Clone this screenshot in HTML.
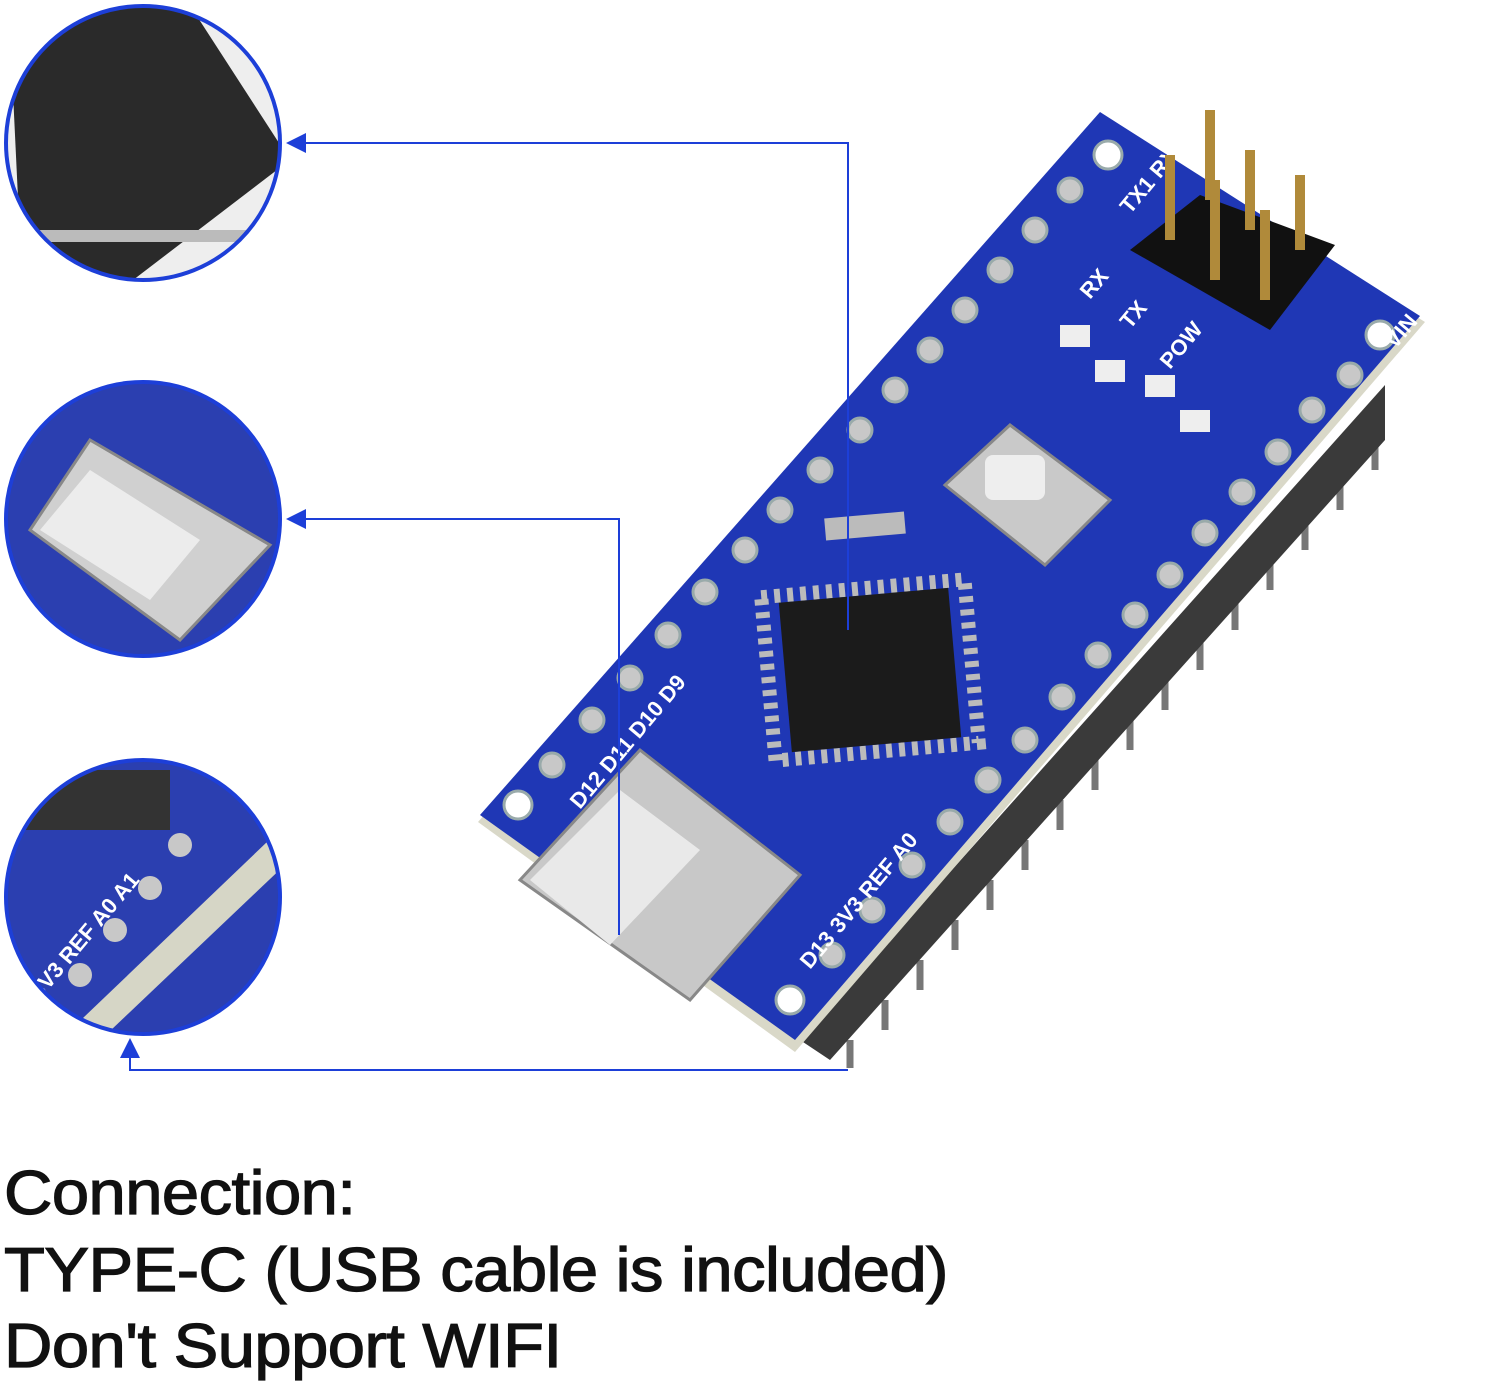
<!DOCTYPE html>
<html><head><meta charset="utf-8"><style>
html,body{margin:0;padding:0;background:#fff;}
body{width:1500px;height:1384px;position:relative;overflow:hidden;font-family:"Liberation Sans",sans-serif;}
.t{position:absolute;left:4px;font-size:62px;color:#111;letter-spacing:-0.5px;line-height:1;transform:scaleX(1.08);transform-origin:0 0;-webkit-text-stroke:1.2px #111;}
</style></head><body>
<svg width="1500" height="1384" style="position:absolute;left:0;top:0">
<defs>
<clipPath id="c1"><circle cx="143" cy="143" r="136"/></clipPath>
<clipPath id="c2"><circle cx="143" cy="519" r="136"/></clipPath>
<clipPath id="c3"><circle cx="143" cy="897" r="136"/></clipPath>
<marker id="ar" markerWidth="10" markerHeight="10" refX="8" refY="5" orient="auto"><path d="M0,0 L10,5 L0,10 z" fill="#1d3fd8"/></marker>
</defs>
<g stroke="#777" stroke-width="7">
<line x1="850" y1="1040" x2="850" y2="1068"/><line x1="885" y1="1000" x2="885" y2="1030"/><line x1="920" y1="960" x2="920" y2="990"/>
<line x1="955" y1="920" x2="955" y2="950"/><line x1="990" y1="880" x2="990" y2="910"/><line x1="1025" y1="840" x2="1025" y2="870"/>
<line x1="1060" y1="800" x2="1060" y2="830"/><line x1="1095" y1="760" x2="1095" y2="790"/><line x1="1130" y1="720" x2="1130" y2="750"/>
<line x1="1165" y1="680" x2="1165" y2="710"/><line x1="1200" y1="640" x2="1200" y2="670"/><line x1="1235" y1="600" x2="1235" y2="630"/>
<line x1="1270" y1="560" x2="1270" y2="590"/><line x1="1305" y1="520" x2="1305" y2="550"/><line x1="1340" y1="480" x2="1340" y2="510"/><line x1="1375" y1="430" x2="1375" y2="470"/>
</g>
<path d="M800,1040 L1385,385 L1385,440 L830,1060 Z" fill="#3a3a3a"/>
<path d="M478,822 L1100,118 L1425,322 L795,1052 Z" fill="#d9d8c8"/>
<path d="M480,815 L1100,112 L1420,316 L795,1040 Z" fill="#1f37b5"/>
<g fill="#c8c8c8" stroke="#9aa" stroke-width="3">
<circle cx="1108" cy="155" r="14" fill="#fff"/><circle cx="1380" cy="335" r="14" fill="#fff"/>
<circle cx="518" cy="805" r="14" fill="#fff"/><circle cx="790" cy="1000" r="14" fill="#fff"/>
<circle cx="1070" cy="190" r="12"/><circle cx="1035" cy="230" r="12"/><circle cx="1000" cy="270" r="12"/><circle cx="965" cy="310" r="12"/>
<circle cx="930" cy="350" r="12"/><circle cx="895" cy="390" r="12"/><circle cx="860" cy="430" r="12"/><circle cx="820" cy="470" r="12"/>
<circle cx="780" cy="510" r="12"/><circle cx="745" cy="550" r="12"/><circle cx="705" cy="592" r="12"/><circle cx="668" cy="635" r="12"/>
<circle cx="630" cy="678" r="12"/><circle cx="592" cy="720" r="12"/><circle cx="552" cy="765" r="12"/>
<circle cx="1350" cy="375" r="12"/><circle cx="1312" cy="410" r="12"/><circle cx="1278" cy="452" r="12"/><circle cx="1242" cy="492" r="12"/>
<circle cx="1205" cy="533" r="12"/><circle cx="1170" cy="575" r="12"/><circle cx="1135" cy="615" r="12"/><circle cx="1098" cy="655" r="12"/>
<circle cx="1062" cy="697" r="12"/><circle cx="1025" cy="740" r="12"/><circle cx="988" cy="780" r="12"/><circle cx="950" cy="822" r="12"/>
<circle cx="912" cy="865" r="12"/><circle cx="872" cy="910" r="12"/><circle cx="832" cy="955" r="12"/>
</g>
<g fill="#fff" font-size="22" font-weight="bold">
<text transform="translate(1130,215) rotate(-50)">TX1 RX0 RST GND D2</text>
<text transform="translate(1395,350) rotate(-50)">VIN GND RST 5V A7</text>
<text transform="translate(810,970) rotate(-50)">D13 3V3 REF A0</text>
<text transform="translate(580,810) rotate(-50)">D12 D11 D10 D9</text>
<text x="1090" y="300" transform="rotate(-50 1090 300)">RX</text>
<text x="1130" y="330" transform="rotate(-50 1130 330)">TX</text>
<text x="1170" y="370" transform="rotate(-50 1170 370)">POW</text>
</g>
<g fill="#111"><path d="M1130,250 L1200,195 L1335,245 L1270,330 Z"/></g>
<g stroke="#b08a3a" stroke-width="10">
<line x1="1170" y1="155" x2="1170" y2="240"/><line x1="1210" y1="110" x2="1210" y2="200"/><line x1="1250" y1="150" x2="1250" y2="230"/>
<line x1="1300" y1="175" x2="1300" y2="250"/><line x1="1215" y1="180" x2="1215" y2="280"/><line x1="1265" y1="210" x2="1265" y2="300"/>
</g>
<path d="M945,485 L1010,425 L1110,500 L1045,565 Z" fill="#c9c9c9" stroke="#888" stroke-width="3"/>
<rect x="985" y="455" width="60" height="45" rx="8" fill="#eee"/>
<g fill="#eee"><rect x="1060" y="325" width="30" height="22"/><rect x="1095" y="360" width="30" height="22"/><rect x="1145" y="375" width="30" height="22"/><rect x="1180" y="410" width="30" height="22"/></g>
<rect x="825" y="515" width="80" height="22" fill="#bbb" transform="rotate(-5 865 526)"/>
<g transform="rotate(-5 870 670)">
<rect x="768" y="588" width="204" height="164" fill="none" stroke="#bbb" stroke-width="14" stroke-dasharray="6 7"/>
<rect x="785" y="595" width="170" height="150" fill="#1b1b1b"/>
</g>
<path d="M520,880 L640,750 L800,875 L690,1000 Z" fill="#c8c8c8" stroke="#888" stroke-width="3"/>
<path d="M530,880 L620,790 L700,850 L610,945 Z" fill="#e9e9e9"/>
<g clip-path="url(#c1)"><rect x="0" y="0" width="290" height="290" fill="#eee"/>
<path d="M10,30 L180,-10 L290,160 L120,290 L20,240 Z" fill="#2a2a2a"/>
<g fill="#bbb"><rect x="15" y="230" width="250" height="12"/></g></g>
<circle cx="143" cy="143" r="137" fill="none" stroke="#1d3fd8" stroke-width="4"/>
<g clip-path="url(#c2)"><rect x="0" y="380" width="290" height="290" fill="#2b3fb0"/>
<path d="M30,530 L90,440 L270,545 L180,640 Z" fill="#d0d0d0" stroke="#888" stroke-width="3"/>
<path d="M40,530 L90,470 L200,540 L150,600 Z" fill="#ececec"/></g>
<circle cx="143" cy="519" r="137" fill="none" stroke="#1d3fd8" stroke-width="4"/>
<g clip-path="url(#c3)"><rect x="0" y="760" width="290" height="290" fill="#2b3fb0"/>
<rect x="20" y="770" width="150" height="60" fill="#333"/>
<path d="M60,1040 L290,820 L290,860 L90,1050 Z" fill="#d6d6c6"/>
<g fill="#c8c8c8"><circle cx="180" cy="845" r="12"/><circle cx="150" cy="888" r="12"/><circle cx="115" cy="930" r="12"/><circle cx="80" cy="975" r="12"/></g>
<g fill="#fff" font-size="22" font-weight="bold"><text transform="translate(40,1000) rotate(-50)">3V3 REF A0 A1</text></g></g>
<circle cx="143" cy="897" r="137" fill="none" stroke="#1d3fd8" stroke-width="4"/>
<g stroke="#1d3fd8" stroke-width="2" fill="none">
<polyline points="848,630 848,143 290,143" marker-end="url(#ar)"/>
<polyline points="619,935 619,519 290,519" marker-end="url(#ar)"/>
<polyline points="848,1070 130,1070 130,1042" marker-end="url(#ar)"/>
</g>
</svg>
<div class="t" style="top:1163px">Connection:</div>
<div class="t" style="top:1240px">TYPE-C (USB cable is included)</div>
<div class="t" style="top:1316px">Don't Support WIFI</div>
</body></html>
